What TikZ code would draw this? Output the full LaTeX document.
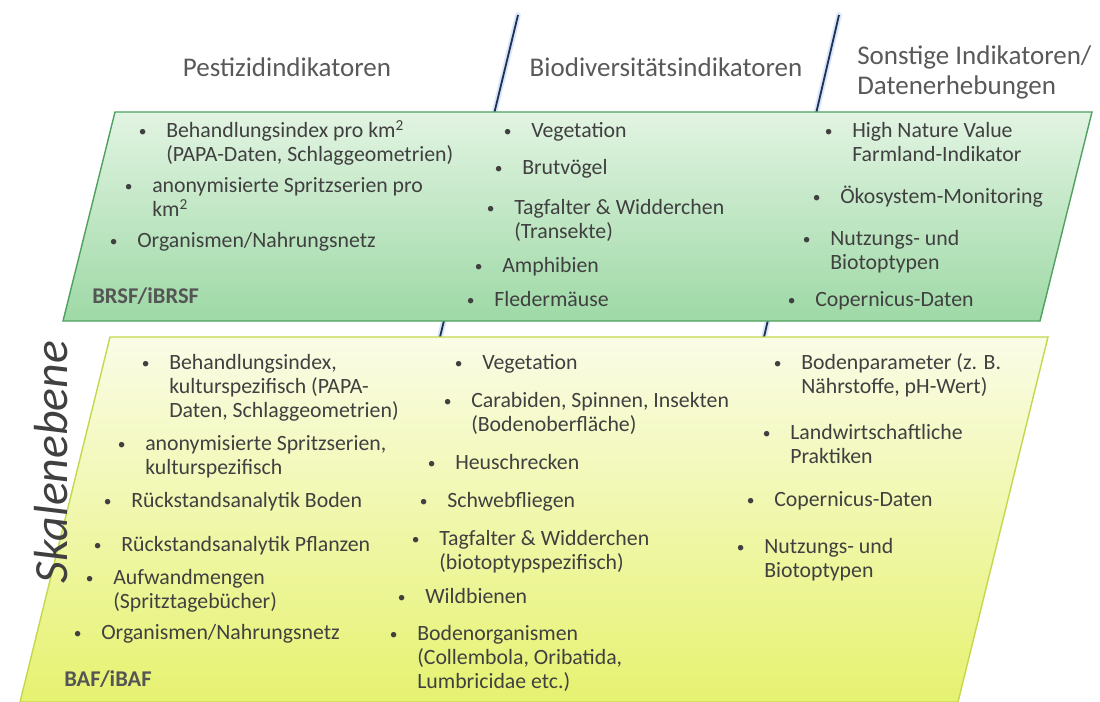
\documentclass[tikz,border=0pt]{standalone}
\usepackage{fontspec}
\setmainfont{Carlito}
\usepackage{xcolor}
\usepackage{tikz}
\usetikzlibrary{calc}
\usetikzlibrary{positioning}

\definecolor{txtgray}{HTML}{404040}
\definecolor{headgray}{HTML}{595959}
\definecolor{lblgray}{HTML}{555555}
\definecolor{brsftop}{HTML}{E2F4E2}
\definecolor{brsfbot}{HTML}{9ED9A6}
\definecolor{brsfline}{HTML}{4FA160}
\definecolor{baftop}{HTML}{FAFCE6}
\definecolor{bafbot}{HTML}{E6F270}
\definecolor{bafline}{HTML}{C3D84C}
\definecolor{divline}{HTML}{1F3158}
\definecolor{divglow}{HTML}{A9C8EE}

\newcommand{\itemfont}{\fontsize{15.5}{17}\selectfont}
\newcommand{\headfont}{\fontsize{19.2}{21.3}\selectfont}
\newcommand{\lblfont}{\fontsize{16}{18}\selectfont\bfseries}
\newcommand{\skalfont}{\fontsize{34}{38}\selectfont\itshape}
\newcommand{\kreis}{\makebox[8pt][c]{\raisebox{0.8pt}{\fontsize{11}{11}\selectfont\textbullet}}}
\newcommand{\punkt}[1]{\begin{tabular}[t]{@{}l@{\hspace{12.7pt}}l@{}}\kreis & #1\end{tabular}}

\begin{document}
\begin{tikzpicture}[x=0.025cm, y=-0.025cm,
	pkt/.style={anchor=base west, inner sep=0pt, text=txtgray, font=\itemfont, xshift=-20.7pt, yshift=-4.6pt},
	kopf/.style={anchor=base, inner sep=0pt, text=headgray, font=\headfont},
	ebene/.style={anchor=base west, inner sep=0pt, text=lblgray, font=\lblfont},
	brsfbox/.style={draw=brsfline, line width=1pt, top color=brsftop, bottom color=brsfbot},
	bafbox/.style={draw=bafline, line width=1pt, top color=baftop, bottom color=bafbot},
	trenn/.style={draw=divline, line width=1.3pt},
	glow/.style={draw=divglow, line width=4pt, opacity=0.45, line cap=round}]
	\useasboundingbox (0,0) rectangle (1100,702);
	% Trennlinien
	\coordinate (t1o) at (518,15);
	\coordinate (t1u) at (440,337);
	\coordinate (t2o) at (839,15);
	\coordinate (t2u) at (764,337);
	\draw[glow] (t1o) -- (t1u);
	\draw[glow] (t2o) -- (t2u);
	\draw[trenn] (t1o) -- (t1u);
	\draw[trenn] (t2o) -- (t2u);
	% Flaechen
	\coordinate (g1) at (115,112);
	\coordinate (g2) at (1092,112);
	\coordinate (g3) at (1040,321);
	\coordinate (g4) at (63,321);
	\draw[brsfbox] (g1) -- (g2) -- (g3) -- (g4) -- cycle;
	\coordinate (y1) at (110,337);
	\coordinate (y2) at (1048,337);
	\coordinate (y3) at (958,702);
	\coordinate (y4) at (20,702);
	\draw[bafbox] (y1) -- (y2) -- (y3) -- (y4) -- cycle;
	% Kopfzeile
	\node[kopf] (k1) at (287,77) {Pestizidindikatoren};
	\node[kopf] (k2) at (666,77) {Biodiversitätsindikatoren};
	\node[kopf, anchor=base west] (k3) at (857,65) {\begin{tabular}[t]{@{}l@{}}Sonstige Indikatoren/\\Datenerhebungen\end{tabular}};
	\node[rotate=90, inner sep=0pt, text=txtgray, font=\skalfont] (skala) at (51,462) {Skalenebene};
	% BRSF
	\node[ebene] (brsf) at (92,303) {BRSF/iBRSF};
	\node[pkt] (a1) at (166,131) {\punkt{Behandlungsindex pro km\textsuperscript{2}\\ & (PAPA-Daten, Schlaggeometrien)}};
	\node[pkt] (a2) at (152,186) {\punkt{anonymisierte Spritzserien pro\\ & km\textsuperscript{2}}};
	\node[pkt] (a3) at (137,241) {\punkt{Organismen/Nahrungsnetz}};
	\node[pkt] (b1) at (531,131) {\punkt{Vegetation}};
	\node[pkt] (b2) at (522,168) {\punkt{Brutvögel}};
	\node[pkt] (b3) at (514,208) {\punkt{Tagfalter \& Widderchen\\ & (Transekte)}};
	\node[pkt] (b4) at (502,266) {\punkt{Amphibien}};
	\node[pkt] (b5) at (494,300) {\punkt{Fledermäuse}};
	\node[pkt] (c1) at (852,131) {\punkt{High Nature Value\\ & Farmland-Indikator}};
	\node[pkt] (c2) at (840,197) {\punkt{Ökosystem-Monitoring}};
	\node[pkt] (c3) at (830,239) {\punkt{Nutzungs- und\\ & Biotoptypen}};
	\node[pkt] (c4) at (815,300) {\punkt{Copernicus-Daten}};
	% BAF
	\node[ebene] (baf) at (64,686) {BAF/iBAF};
	\node[pkt] (d1) at (169,363) {\punkt{Behandlungsindex,\\ & kulturspezifisch (PAPA-\\ & Daten, Schlaggeometrien)}};
	\node[pkt] (d2) at (145,444) {\punkt{anonymisierte Spritzserien,\\ & kulturspezifisch}};
	\node[pkt] (d3) at (131,501) {\punkt{Rückstandsanalytik Boden}};
	\node[pkt] (d4) at (121,545) {\punkt{Rückstandsanalytik Pflanzen}};
	\node[pkt] (d5) at (113,578) {\punkt{Aufwandmengen\\ & (Spritztagebücher)}};
	\node[pkt] (d6) at (101,633) {\punkt{Organismen/Nahrungsnetz}};
	\node[pkt] (e1) at (482,363) {\punkt{Vegetation}};
	\node[pkt] (e2) at (471,401) {\punkt{Carabiden, Spinnen, Insekten\\ & (Bodenoberfläche)}};
	\node[pkt] (e3) at (455,463) {\punkt{Heuschrecken}};
	\node[pkt] (e4) at (447,501) {\punkt{Schwebfliegen}};
	\node[pkt] (e5) at (439,539) {\punkt{Tagfalter \& Widderchen\\ & (biotoptypspezifisch)}};
	\node[pkt] (e6) at (425,597) {\punkt{Wildbienen}};
	\node[pkt] (e7) at (417,634) {\punkt{Bodenorganismen\\ & (Collembola, Oribatida,\\ & Lumbricidae etc.)}};
	\node[pkt] (f1) at (801,363) {\punkt{Bodenparameter (z. B.\\ & Nährstoffe, pH-Wert)}};
	\node[pkt] (f2) at (790,433) {\punkt{Landwirtschaftliche\\ & Praktiken}};
	\node[pkt] (f3) at (774,500) {\punkt{Copernicus-Daten}};
	\node[pkt] (f4) at (764,547) {\punkt{Nutzungs- und\\ & Biotoptypen}};
\end{tikzpicture}
\end{document}
